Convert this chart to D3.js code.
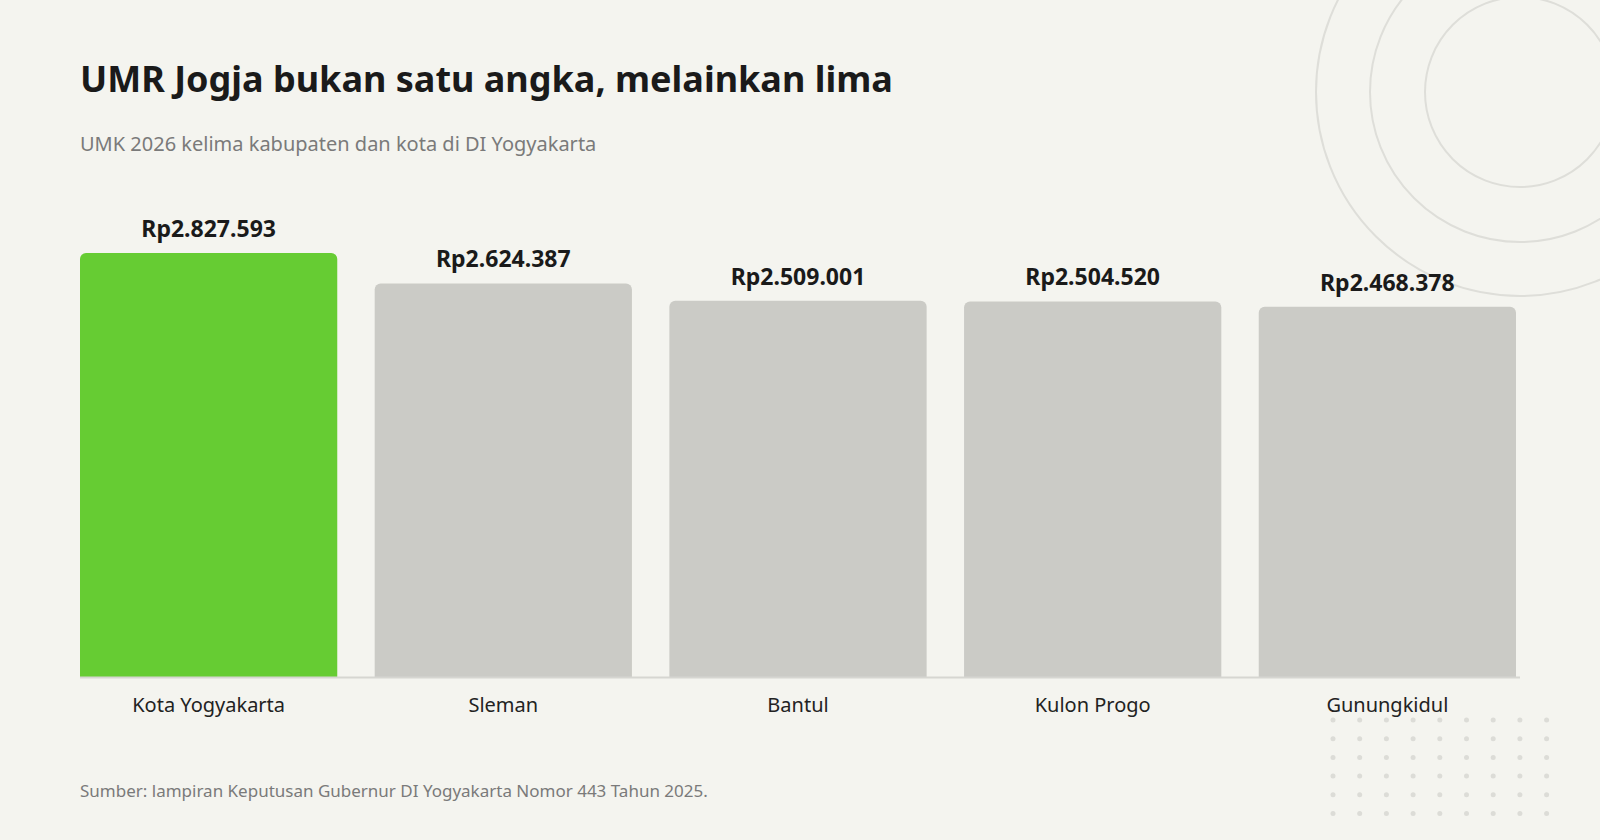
<!DOCTYPE html>
<html>
<head>
<meta charset="utf-8">
<script src="https://cdn.jsdelivr.net/npm/d3@7"></script>
<style>
  body { margin: 0; background: #f4f4ef; }
  svg { display: block; font-family: "Noto Sans", "Open Sans", sans-serif; }
</style>
</head>
<body>
<div id="container"></div>
<script>
var regions = ["Kota Yogyakarta", "Sleman", "Bantul", "Kulon Progo", "Gunungkidul"];
var umk = [2827593, 2624387, 2509001, 2504520, 2468378];
var valueLabels = ["Rp2.827.593", "Rp2.624.387", "Rp2.509.001", "Rp2.504.520", "Rp2.468.378"];

var W = 1600, H = 840;
var svg = d3.select('#container').append('svg')
  .attr('width', W).attr('height', H);

svg.append('rect').attr('width', W).attr('height', H).attr('fill', '#f4f4ef');

// decorative rings, top right
[95, 150, 204].forEach(function(r) {
  svg.append('circle').attr('cx', 1520).attr('cy', 92).attr('r', r)
    .attr('fill', 'none').attr('stroke', '#deded9').attr('stroke-width', 2);
});

// dot grid, bottom right
for (var i = 0; i < 9; i++) {
  for (var j = 0; j < 6; j++) {
    svg.append('circle').attr('cx', 1333 + i * 26.7).attr('cy', 720 + j * 18.7)
      .attr('r', 2.5).attr('fill', '#dcdcd7');
  }
}

var x = d3.scaleBand().domain(regions).range([80, 1516]).paddingInner(0.127).paddingOuter(0);
var y = d3.scaleLinear().domain([0, d3.max(umk)]).range([677, 253]);

svg.append('text').attr('x', 80).attr('y', 92)
  .attr('font-size', 36).attr('font-weight', 700).attr('fill', '#1a1a1a')
  .text('UMR Jogja bukan satu angka, melainkan lima');
svg.append('text').attr('x', 80).attr('y', 151)
  .attr('font-size', 20).attr('fill', '#7a7a7a')
  .text('UMK 2026 kelima kabupaten dan kota di DI Yogyakarta');

var g = svg.append('g');
g.selectAll('rect.bar').data(umk).enter().append('rect')
  .attr('class', 'bar')
  .attr('x', function(d, i) { return x(regions[i]); })
  .attr('y', function(d) { return y(d); })
  .attr('width', x.bandwidth())
  .attr('height', function(d) { return y(0) - y(d) + 6; })
  .attr('rx', 6)
  .attr('fill', function(d, i) { return i === 0 ? '#66cc33' : '#cbcbc6'; });

// cover rounded bottoms so bars sit square on the baseline
svg.append('rect').attr('x', 0).attr('y', 677).attr('width', 1290).attr('height', 8).attr('fill', '#f4f4ef');
svg.append('rect').attr('x', 1290).attr('y', 677).attr('width', 240).attr('height', 8).attr('fill', '#f4f4ef');

svg.append('line').attr('x1', 80).attr('x2', 1520).attr('y1', 677.5).attr('y2', 677.5)
  .attr('stroke', '#d6d6d1').attr('stroke-width', 2);

g.selectAll('text.val').data(umk).enter().append('text')
  .attr('class', 'val')
  .attr('x', function(d, i) { return x(regions[i]) + x.bandwidth() / 2; })
  .attr('y', function(d) { return y(d) - 16; })
  .attr('text-anchor', 'middle').attr('font-size', 23).attr('font-weight', 700)
  .attr('fill', '#1a1a1a')
  .text(function(d, i) { return valueLabels[i]; });

g.selectAll('text.cat').data(regions).enter().append('text')
  .attr('class', 'cat')
  .attr('x', function(d) { return x(d) + x.bandwidth() / 2; })
  .attr('y', 712)
  .attr('text-anchor', 'middle').attr('font-size', 20).attr('fill', '#222')
  .text(function(d) { return d; });

svg.append('text').attr('x', 80).attr('y', 797)
  .attr('font-size', 17).attr('fill', '#7a7a7a')
  .text('Sumber: lampiran Keputusan Gubernur DI Yogyakarta Nomor 443 Tahun 2025.');
</script>
</body>
</html>
